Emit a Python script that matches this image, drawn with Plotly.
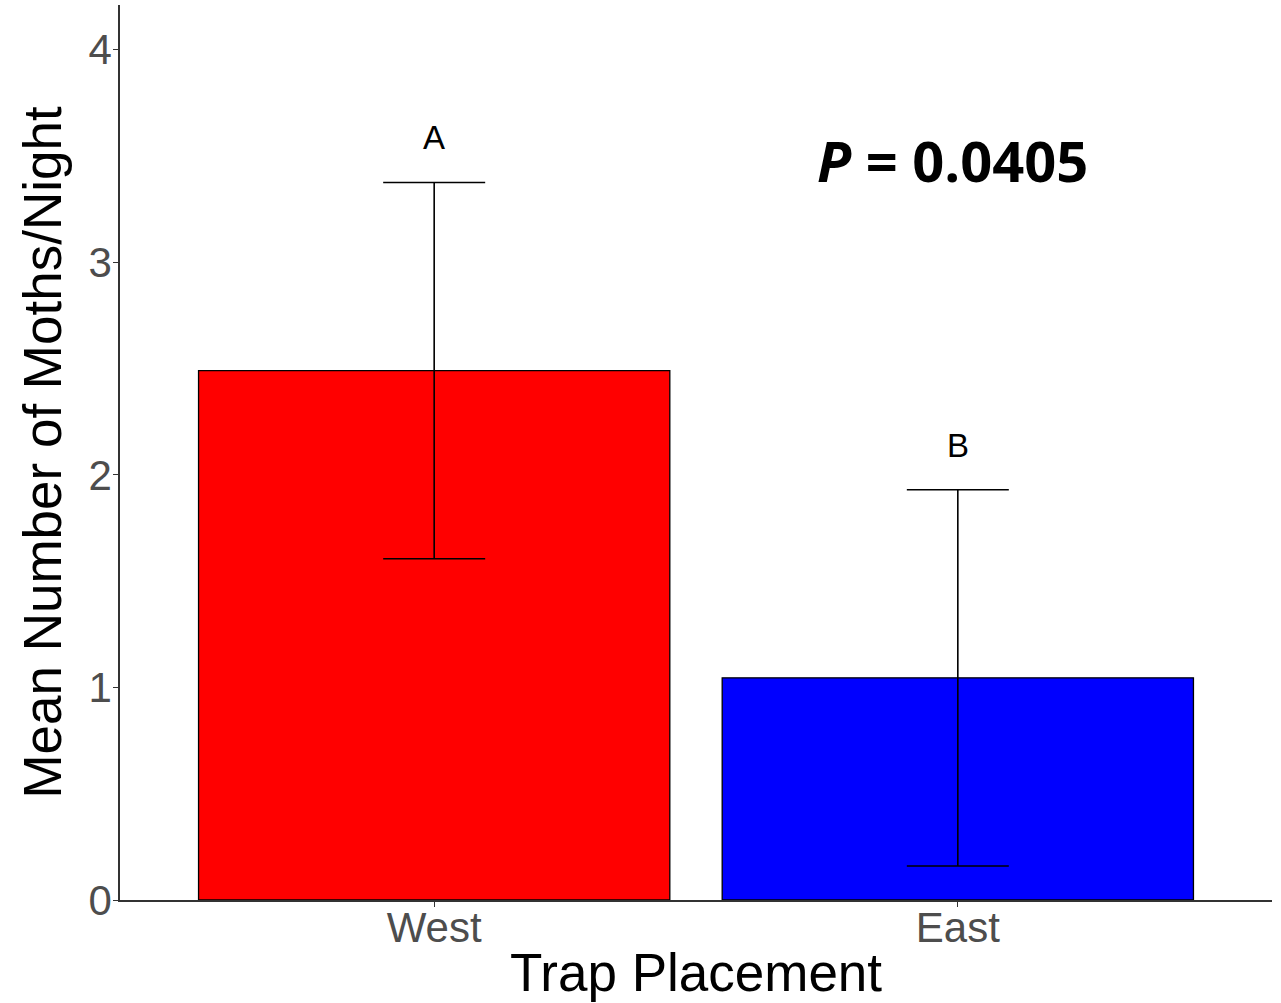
import plotly.graph_objects as go

categories = ["West", "East"]
means = [2.49, 1.045]
errors = [0.885, 0.885]
colors = ["#FF0000", "#0000FF"]
letters = ["A", "B"]
letter_y = [3.585, 2.14]
y_ticks = [0, 1, 2, 3, 4]
p_text = "<b><i>P</i> = 0.0405</b>"

fig = go.Figure()
fig.add_trace(go.Bar(
    x=[0, 1], y=means,
    width=0.9,
    marker=dict(color=colors, line=dict(color="black", width=1.3)),
    error_y=dict(type="data", array=errors, visible=True, color="black", thickness=1.6, width=51),
    showlegend=False,
))

for i, (lab, ly) in enumerate(zip(letters, letter_y)):
    fig.add_annotation(x=i, y=ly, xref="x", yref="y", text=lab, showarrow=False,
                       font=dict(family="Liberation Sans, Arial", size=33, color="black"))

fig.add_annotation(x=0.99, y=3.48, xref="x", yref="y", text=p_text, showarrow=False,
                   font=dict(family="Open Sans, Lato", size=56, color="black"))

fig.update_layout(
    width=1281, height=1003,
    margin=dict(l=120, r=9, t=5, b=103),
    plot_bgcolor="white", paper_bgcolor="white",
    bargap=0.1,
    xaxis=dict(
        range=[-0.6, 1.6],
        tickvals=[0, 1], ticktext=categories,
        showline=True, linecolor="#333333", linewidth=1.5,
        ticks="outside", ticklen=5, tickcolor="#333333",
        ticklabelstandoff=-15,
        tickfont=dict(family="Liberation Sans, Arial", size=42, color="#4D4D4D"),
        title=dict(text="Trap Placement", font=dict(family="Liberation Sans, Arial", size=53, color="black"), standoff=4),
        showgrid=False, zeroline=False, automargin=False,
    ),
    yaxis=dict(
        range=[0, 4.21],
        tickvals=y_ticks,
        showline=True, linecolor="#333333", linewidth=1.5,
        ticks="outside", ticklen=5, tickcolor="#333333",
        ticklabelstandoff=-7,
        tickfont=dict(family="Liberation Sans, Arial", size=42, color="#4D4D4D"),
        title=dict(text="Mean Number of Moths/Night", font=dict(family="Liberation Sans, Arial", size=53, color="black"), standoff=10),
        showgrid=False, zeroline=False, automargin=False,
    ),
)

fig.write_html("out.html", config={"displayModeBar": False},
               post_script="document.body.style.margin='0';document.body.style.overflow='hidden';")
